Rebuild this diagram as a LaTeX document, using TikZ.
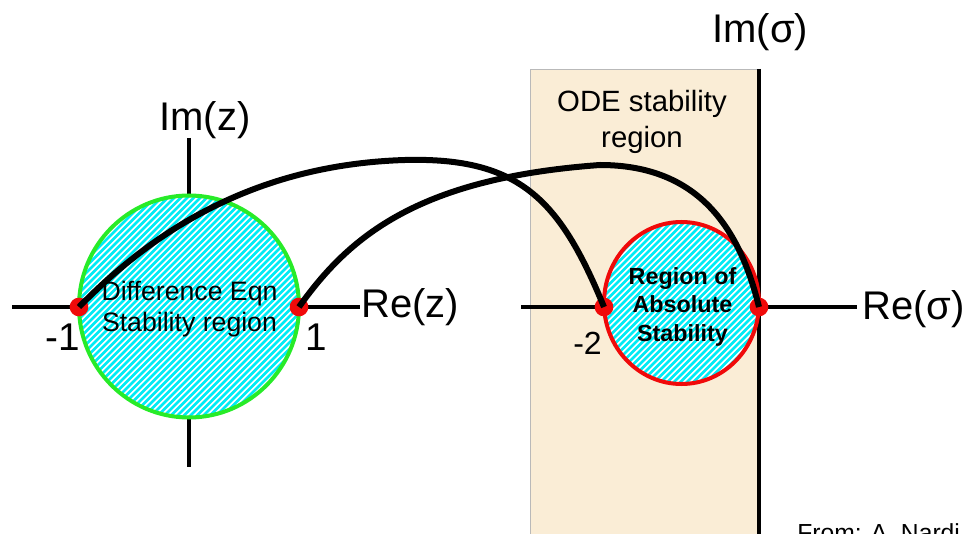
\documentclass[tikz,border=0pt]{standalone}
\usepackage{fontspec}
\setmainfont{Liberation Sans}
\definecolor{beige}{RGB}{250,237,214}
\definecolor{hatchcyan}{RGB}{0,235,245}
\definecolor{brightgreen}{RGB}{40,235,40}
\definecolor{dotred}{RGB}{240,10,10}
\tikzset{
  axisline/.style={line width=3pt, black},
  linkcurve/.style={line width=4.5pt, black},
  reddot/.style={circle, fill=dotred, inner sep=0pt, minimum size=14pt},
  biglabel/.style={font=\fontsize{30}{32}\selectfont, inner sep=0pt},
  ticklabel/.style={font=\fontsize{29}{31}\selectfont, inner sep=0pt},
}
\begin{document}
\begin{tikzpicture}[x=0.75pt, y=-0.75pt]
\useasboundingbox (0,0) rectangle (967,534);
% ODE stability strip
\fill[beige] (530,69) rectangle (759,540);
\draw[gray!55, line width=0.6pt] (530,540) -- (530,69) -- (759,69);
% coordinates for axes
\coordinate (lxa) at (12,307);
\coordinate (lxb) at (360,307);
\coordinate (lya) at (189,138);
\coordinate (lyb) at (189,467);
\coordinate (rxa) at (521,307);
\coordinate (rxb) at (857,307);
\coordinate (rya) at (759,69);
\coordinate (ryb) at (759,540);
\draw[axisline] (lxa) -- (lxb);
\draw[axisline] (lya) -- (lyb);
\draw[axisline] (rxa) -- (rxb);
\draw[line width=3.6pt] (rya) -- (ryb);
% left hatched disc
\fill[white] (189,306.5) ellipse [x radius=110, y radius=111];
\begin{scope}
  \clip (189,306.5) ellipse [x radius=110, y radius=111];
  \foreach \k in {-50,...,50}
    \draw[hatchcyan, line width=1.9pt] ({189+\k*6.5-130},{306.5+130}) -- ({189+\k*6.5+130},{306.5-130});
\end{scope}
\draw[brightgreen, line width=3pt] (189,306.5) ellipse [x radius=110, y radius=111];
% right hatched disc
\fill[white] (681.5,303) ellipse [x radius=77.5, y radius=81];
\begin{scope}
  \clip (681.5,303) ellipse [x radius=77.5, y radius=81];
  \foreach \k in {-40,...,40}
    \draw[hatchcyan, line width=1.9pt] ({681.5+\k*6.5-100},{303+100}) -- ({681.5+\k*6.5+100},{303-100});
\end{scope}
\draw[dotred, line width=3pt] (681.5,303) ellipse [x radius=77.5, y radius=81];
% dots
\node[reddot] (m1) at (79,307) {};
\node[reddot] (p1) at (299,307) {};
\node[reddot] (m2) at (604,307) {};
\node[reddot] (z0) at (759,307) {};
% mapping curves
\draw[linkcurve] (m1.center) .. controls (140,245) and (240,165) .. (405,160)
  .. controls (520,157) and (560,200) .. (m2.center);
\draw[linkcurve] (p1.center) .. controls (350,235) and (420,178) .. (600,165)
  .. controls (700,165) and (740,230) .. (z0.center);
% labels
\node[biglabel, anchor=base west] (imz) at (159,131) {Im(z)};
\node[biglabel, anchor=base west] (rez) at (361,318) {Re(z)};
\node[biglabel, anchor=base west] (ims) at (712,43) {Im(σ)};
\node[biglabel, anchor=base west] (res) at (862,320) {Re(σ)};
\node[ticklabel, anchor=base east] (lm1) at (80,351) {-1};
\node[ticklabel, anchor=base west] (lp1) at (305,351) {1};
\node[font=\fontsize{24}{26}\selectfont, inner sep=0pt, anchor=base east] (lm2) at (602,354) {-2};
\node[font=\fontsize{20}{23.8}\selectfont, inner sep=0pt, align=center] (deq) at (189.5,309) {Difference Eqn\\Stability region};
\node[font=\fontsize{22}{26.5}\selectfont, inner sep=0pt, align=center] (ode) at (642,122) {ODE stability\\region};
\node[font=\bfseries\fontsize{17.5}{21.4}\selectfont, inner sep=0pt, align=center] (ras) at (682.5,306.8) {Region of\\Absolute\\Stability};
\node[font=\fontsize{18.5}{20}\selectfont, inner sep=0pt, anchor=base west] (src) at (797,541) {From: A. Nardi};
\end{tikzpicture}
\end{document}
